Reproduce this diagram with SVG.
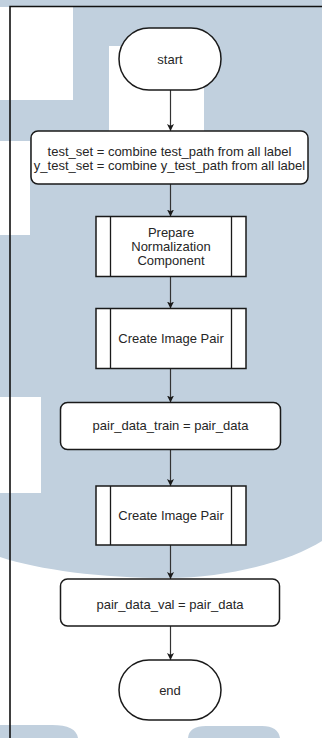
<svg xmlns="http://www.w3.org/2000/svg" width="322" height="738" viewBox="0 0 322 738">
  <style>
    .wm { fill: #c1d0de; }
    .blank { fill: #ffffff; }
    .node { fill: #ffffff; stroke: #1a1a1a; stroke-width: 1.5; }
    .bar { fill: none; stroke: #1a1a1a; stroke-width: 1.3; }
    .edge { fill: none; stroke: #333333; stroke-width: 1.2; }
    .frame { fill: none; stroke: #111111; stroke-width: 1.6; }
    text { font-family: "Liberation Sans", Arial, Helvetica, sans-serif; font-size: 13px; fill: #262626; text-anchor: middle; }
  </style>
  <defs>
    <marker id="arrow" viewBox="0 0 10 10" refX="10" refY="5" markerWidth="7" markerHeight="7" markerUnits="userSpaceOnUse" orient="auto">
      <path d="M0,0 L10,5 L0,10 L2.5,5 Z" fill="#1a1a1a"/>
    </marker>
  </defs>

  <!-- background -->
  <rect x="0" y="0" width="322" height="738" fill="#ffffff"/>
  <g id="watermark">
    <path class="wm" d="M0,0 H322 V541 C292,560 232,578 168,578 C100,578 40,570 0,557 Z"/>
    <rect class="blank" x="0" y="7" width="73" height="93"/>
    <rect class="blank" x="109" y="46" width="95" height="86"/>
    <rect class="blank" x="0" y="141" width="30" height="94"/>
    <rect class="blank" x="0" y="397" width="41" height="96"/>
    <path class="wm" d="M0,738 V725 H52 Q76,725 78,738 Z"/>
    <path class="wm" d="M188,738 Q189,726 206,726 H262 Q278,726 280,738 Z"/>
  </g>

  <!-- page frame -->
  <path class="frame" d="M10,738 V6.5 H322"/>

  <!-- connectors -->
  <g id="connectors">
    <line class="edge" x1="170.5" y1="90" x2="170.5" y2="131" marker-end="url(#arrow)"/>
    <line class="edge" x1="170.5" y1="184" x2="170.5" y2="216.5" marker-end="url(#arrow)"/>
    <line class="edge" x1="170.5" y1="276.5" x2="170.5" y2="308.5" marker-end="url(#arrow)"/>
    <line class="edge" x1="170.5" y1="368.5" x2="170.5" y2="402.5" marker-end="url(#arrow)"/>
    <line class="edge" x1="170.5" y1="449.5" x2="170.5" y2="486" marker-end="url(#arrow)"/>
    <line class="edge" x1="170.5" y1="545" x2="170.5" y2="579" marker-end="url(#arrow)"/>
    <line class="edge" x1="170.5" y1="626" x2="170.5" y2="660" marker-end="url(#arrow)"/>
  </g>

  <g id="start">
    <rect class="node" x="119" y="28" width="102" height="62" rx="30" ry="31"/>
    <text x="170" y="63.5">start</text>
  </g>

  <g id="combine-test-set">
    <rect class="node" x="31" y="131" width="277" height="53" rx="7" ry="7"/>
    <text x="169.5" y="156">test_set = combine test_path from all label</text>
    <text x="169.5" y="170">y_test_set = combine y_test_path from all label</text>
  </g>

  <g id="prepare-normalization">
    <rect class="node" x="96" y="216.5" width="150" height="60"/>
    <line class="bar" x1="110.5" y1="216.5" x2="110.5" y2="276.5"/>
    <line class="bar" x1="231.5" y1="216.5" x2="231.5" y2="276.5"/>
    <text x="171" y="237">Prepare</text>
    <text x="171" y="251">Normalization</text>
    <text x="171" y="265">Component</text>
  </g>

  <g id="create-pair-train">
    <rect class="node" x="96" y="308.5" width="150" height="60"/>
    <line class="bar" x1="110.5" y1="308.5" x2="110.5" y2="368.5"/>
    <line class="bar" x1="231.5" y1="308.5" x2="231.5" y2="368.5"/>
    <text x="171" y="342.5">Create Image Pair</text>
  </g>

  <g id="pair-data-train">
    <rect class="node" x="60.5" y="402.5" width="220" height="47" rx="7" ry="7"/>
    <text x="170.5" y="430">pair_data_train = pair_data</text>
  </g>

  <g id="create-pair-val">
    <rect class="node" x="96" y="486" width="150" height="59"/>
    <line class="bar" x1="110.5" y1="486" x2="110.5" y2="545"/>
    <line class="bar" x1="231.5" y1="486" x2="231.5" y2="545"/>
    <text x="171" y="520">Create Image Pair</text>
  </g>

  <g id="pair-data-val">
    <rect class="node" x="60.5" y="579" width="219" height="47" rx="7" ry="7"/>
    <text x="170" y="608.5">pair_data_val = pair_data</text>
  </g>

  <g id="end">
    <rect class="node" x="119" y="660" width="102" height="60" rx="30" ry="30"/>
    <text x="170" y="695">end</text>
  </g>
</svg>
